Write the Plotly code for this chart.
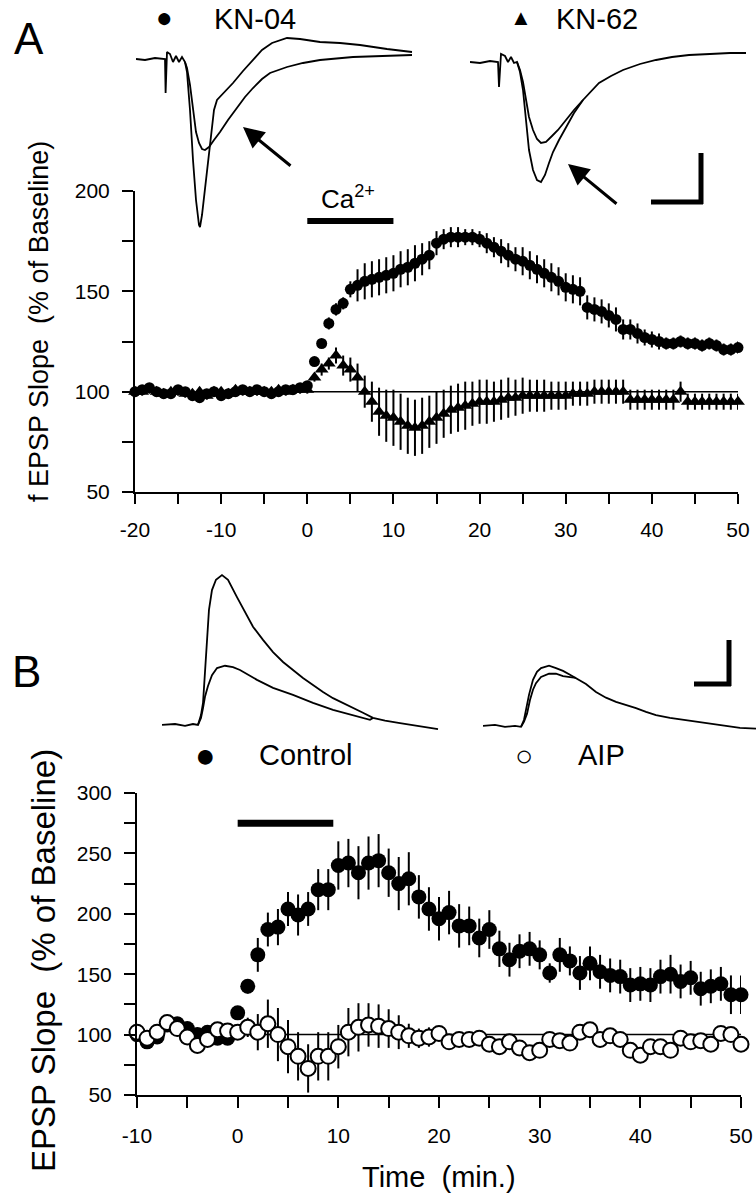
import plotly.graph_objects as go

W, H = 756, 1199
def px(x):
    return x / W
def py(y):
    return 1 - y / H

FONT = "Liberation Sans, Arial, Helvetica, sans-serif"

# ---------------- Panel A data (sampled every 50 s) ----------------
A_TIME = [round(-20 + i * 50 / 60, 3) for i in range(85)]
A_KN04 = [100, 101, 102, 100, 99, 99, 101, 100, 98, 97, 99, 100, 98, 99, 100, 101, 100, 101, 100, 99,
          100, 101, 101, 102, 103,
          115, 124, 134, 141, 144, 151, 153, 155, 156, 157, 158, 159,
          161, 162, 164, 166, 168, 174, 176, 177, 177, 177, 177, 176,
          174, 172, 170, 168, 166, 165, 163, 161, 159, 157, 155, 152,
          151, 150, 142, 141, 140, 138, 136, 131, 131, 129, 127, 126,
          125, 124, 124, 125, 124, 124, 123, 124, 123, 121, 121, 122]
A_KN04_ERR = [2] * 25 + [2, 2, 3, 3, 3, 4, 8, 9, 9, 9, 9, 9,
                         9, 9, 9, 8, 7, 6, 5, 5, 5, 4, 4, 4,
                         5, 5, 6, 6, 6, 7, 7, 7, 7, 7, 7, 7,
                         7, 7, 6, 6, 6, 6, 6, 5, 5, 5, 4, 4,
                         4, 3, 3, 3, 3, 3, 3, 3, 3, 3, 3, 3]
A_KN62 = [100, 100, 101, 100, 99, 100, 100, 99, 99, 100, 98, 100, 100, 99, 101, 100, 100, 100, 100, 100,
          101, 100, 101, 101, 101,
          107, 111, 114, 118, 113, 111, 107, 100, 95, 90, 88, 87,
          85, 83, 82, 83, 85, 87, 89, 91, 92, 93, 94, 95,
          95, 95, 96, 97, 97, 98, 98, 98, 98, 98, 98, 98,
          99, 99, 99, 100, 100, 100, 100, 100, 96, 96, 96, 96,
          96, 96, 96, 100, 95, 95, 95, 95, 95, 95, 95, 95]
A_KN62_ERR = [2] * 25 + [2, 3, 3, 4, 5, 6, 7, 8, 10, 12, 13, 14,
                         14, 14, 14, 14, 13, 13, 12, 12, 12, 12, 11, 11,
                         11, 10, 10, 10, 9, 9, 8, 8, 8, 7, 7, 7,
                         6, 6, 6, 6, 6, 6, 6, 6, 5, 5, 5, 5,
                         5, 5, 5, 5, 4, 4, 4, 4, 4, 4, 4, 4]
A_CA_PERIOD = [0, 10]
A_CA_LEVEL = 185

# ---------------- Panel B data (every 1 min) ----------------
B_TIME = list(range(-10, 51))
B_CONTROL = [100, 94, 98, 108, 109, 105, 100, 102, 97, 97,
             118, 140, 166, 187, 189, 204, 199, 204, 220, 220,
             240, 242, 234, 242, 244, 234, 225, 229, 214, 204,
             196, 201, 190, 190, 180, 187, 171, 162, 169, 171,
             166, 151, 166, 161, 151, 159, 152, 149, 148, 141,
             142, 141, 148, 150, 144, 147, 138, 140, 142, 133, 133]
B_CONTROL_ERR = [3] * 10 + [3, 6, 14, 14, 15, 14, 17, 14, 17, 17,
                            20, 20, 22, 22, 22, 20, 22, 22, 18, 18,
                            18, 18, 18, 16, 16, 16, 15, 14, 14, 14,
                            12, 8, 14, 12, 14, 14, 14, 14, 14, 14,
                            14, 14, 14, 16, 14, 14, 14, 14, 14, 16, 16]
B_AIP = [102, 97, 102, 110, 105, 98, 91, 96, 104, 103,
         102, 106, 102, 109, 100, 90, 82, 72, 82, 82,
         90, 102, 106, 108, 107, 105, 102, 99, 97, 98,
         101, 94, 96, 96, 97, 92, 90, 94, 89, 85,
         87, 96, 95, 93, 102, 104, 96, 99, 96, 87,
         83, 90, 90, 87, 97, 94, 95, 92, 101, 100, 92]
B_AIP_ERR = [3] * 10 + [4, 8, 15, 20, 22, 22, 20, 20, 20, 20,
                        18, 20, 20, 18, 18, 16, 14, 10, 8, 8,
                        6] + [5] * 30
B_CA_PERIOD = [0, 9.5]
B_CA_LEVEL = 275

# ---------------- Example traces (ms, mV) ----------------
# Panel A, KN-04
A1_PRE_T = [0.0, 0.9, 1.9, 2.7, 2.9, 2.96, 3.03, 3.1, 3.4, 3.7, 4.0, 4.3, 4.6, 4.9]
A1_PRE_V = [0.0, -0.01, 0.01, 0.0, 0.0, -0.34, -0.01, 0.07, 0.05, -0.03, 0.03, -0.03, 0.02, -0.03]
A1_BIG_T = [5.1, 5.4, 5.7, 6.0, 6.3, 6.4, 6.6, 6.9, 7.2, 7.5, 7.8, 8.1, 8.4, 9.1, 9.7, 10.7, 11.7,
            12.6, 13.6, 15.1, 16.4, 18.4, 20.4, 22.4, 25.1, 27.6]
A1_BIG_V = [-0.13, -0.51, -1.01, -1.41, -1.66, -1.68, -1.56, -1.31, -1.01, -0.76, -0.51, -0.41, -0.38,
            -0.31, -0.24, -0.12, -0.01, 0.09, 0.16, 0.21, 0.20, 0.17, 0.16, 0.14, 0.10, 0.07]
A1_SMALL_T = [5.1, 5.4, 5.7, 6.0, 6.3, 6.6, 6.9, 7.3, 7.8, 8.4, 9.2, 10.1, 10.9, 11.7, 12.6, 13.4,
              15.1, 16.7, 18.4, 21.7, 24.4, 27.6]
A1_SMALL_V = [-0.09, -0.26, -0.51, -0.73, -0.84, -0.90, -0.91, -0.88, -0.81, -0.73, -0.61, -0.49,
              -0.38, -0.29, -0.20, -0.14, -0.08, -0.04, -0.01, 0.02, 0.03, 0.04]
# Panel A, KN-62
A2_PRE_T = [0.0, 1.0, 2.0, 2.8, 2.9, 3.0, 3.1, 3.5, 3.8, 4.1, 4.4, 4.7]
A2_PRE_V = [0.0, -0.01, 0.01, 0.0, -0.25, 0.0, 0.08, 0.06, 0.0, 0.05, -0.01, 0.0]
A2_BIG_T = [5.0, 5.3, 5.6, 5.9, 6.3, 6.7, 7.1, 7.5, 7.9, 8.3, 8.9, 9.6, 10.4, 11.3]
A2_BIG_V = [-0.10, -0.28, -0.58, -0.88, -1.08, -1.18, -1.20, -1.13, -1.01, -0.90, -0.78, -0.65, -0.51, -0.38]
A2_SMALL_T = [5.0, 5.3, 5.6, 5.9, 6.3, 6.7, 7.1, 7.6, 8.2, 8.8, 9.6, 10.4, 11.3]
A2_SMALL_V = [-0.08, -0.20, -0.38, -0.55, -0.68, -0.77, -0.81, -0.80, -0.74, -0.68, -0.58, -0.48, -0.38]
A2_TAIL_T = [11.3, 12.9, 14.1, 15.3, 17.0, 18.6, 20.2, 21.9, 24.0, 26.0, 27.6]
A2_TAIL_V = [-0.38, -0.21, -0.14, -0.08, -0.02, 0.02, 0.05, 0.07, 0.08, 0.09, 0.09]
# Panel B, Control
B1_PRE_T = [0.0, 1.86, 3.29, 4.43, 5.14]
B1_PRE_V = [0.0, 0.02, -0.02, 0.02, 0.0]
B1_BIG_T = [5.57, 5.86, 6.14, 6.43, 6.71, 7.14, 7.71, 8.57, 9.43, 10.71, 11.86, 13.0, 14.43, 15.86,
            17.29, 18.71, 20.14, 21.57, 23.0, 24.43, 25.86, 27.29, 28.71, 30.14]
B1_BIG_V = [0.21, 0.47, 1.17, 1.91, 2.45, 2.87, 3.09, 3.19, 3.09, 2.72, 2.40, 2.09, 1.81, 1.55,
            1.34, 1.17, 1.00, 0.85, 0.70, 0.57, 0.47, 0.36, 0.26, 0.15]
B1_SMALL_T = [5.57, 5.86, 6.14, 6.57, 7.14, 7.86, 9.0, 10.14, 11.14, 13.57, 15.86, 18.71, 21.57,
              24.43, 27.29, 29.71]
B1_SMALL_V = [0.15, 0.36, 0.60, 0.83, 1.06, 1.21, 1.26, 1.23, 1.17, 0.96, 0.79, 0.64, 0.47, 0.32, 0.21, 0.11]
B1_TAIL_T = [30.14, 31.86, 34.0, 36.86, 39.43]
B1_TAIL_V = [0.15, 0.09, 0.04, -0.02, -0.09]
# Panel B, AIP
B2_PRE_T = [0.0, 1.71, 3.14, 4.57, 5.43]
B2_PRE_V = [0.0, 0.02, -0.02, 0.0, -0.02]
B2_BIG_T = [5.86, 6.14, 6.57, 7.14, 7.71, 8.29, 9.43, 10.43, 11.43, 12.43, 13.29]
B2_BIG_V = [0.13, 0.34, 0.66, 0.98, 1.15, 1.23, 1.28, 1.23, 1.17, 1.09, 1.02]
B2_SMALL_T = [5.86, 6.29, 6.71, 7.14, 7.57, 8.29, 9.43, 10.43, 11.43, 12.43, 13.29]
B2_SMALL_V = [0.09, 0.26, 0.55, 0.77, 0.91, 1.04, 1.11, 1.11, 1.06, 1.04, 1.02]
B2_TAIL_T = [13.29, 14.71, 16.14, 17.57, 19.0, 20.43, 21.86, 23.29, 24.71, 26.71, 28.57, 30.43,
             32.29, 34.57, 36.71, 39.0]
B2_TAIL_V = [1.02, 0.89, 0.72, 0.60, 0.51, 0.45, 0.38, 0.30, 0.23, 0.17, 0.13, 0.09, 0.04, 0.0, -0.04, -0.06]

fig = go.Figure()

def trace_line(t, v, xa, ya):
    fig.add_trace(go.Scatter(x=t, y=v, mode="lines", xaxis=xa, yaxis=ya, showlegend=False,
                             line=dict(color="black", width=1.8), hoverinfo="skip"))

# A left traces
trace_line(A1_PRE_T + A1_BIG_T, A1_PRE_V + A1_BIG_V, "x3", "y3")
trace_line(A1_PRE_T[-1:] + A1_SMALL_T, A1_PRE_V[-1:] + A1_SMALL_V, "x3", "y3")
# A right traces
trace_line(A2_PRE_T + A2_BIG_T + A2_TAIL_T, A2_PRE_V + A2_BIG_V + A2_TAIL_V, "x4", "y4")
trace_line(A2_PRE_T[-1:] + A2_SMALL_T, A2_PRE_V[-1:] + A2_SMALL_V, "x4", "y4")
# B left traces
trace_line(B1_PRE_T + B1_BIG_T + B1_TAIL_T, B1_PRE_V + B1_BIG_V + B1_TAIL_V, "x5", "y5")
trace_line(B1_PRE_T[-1:] + B1_SMALL_T + B1_TAIL_T[:1], B1_PRE_V[-1:] + B1_SMALL_V + B1_TAIL_V[:1], "x5", "y5")
# B right traces
trace_line(B2_PRE_T + B2_BIG_T + B2_TAIL_T, B2_PRE_V + B2_BIG_V + B2_TAIL_V, "x6", "y6")
trace_line(B2_PRE_T[-1:] + B2_SMALL_T, B2_PRE_V[-1:] + B2_SMALL_V, "x6", "y6")

# ---------- Panel A plot ----------
fig.add_trace(go.Scatter(x=[0, 50], y=[100, 100], mode="lines", line=dict(color="black", width=1.5),
                         xaxis="x", yaxis="y", showlegend=False, hoverinfo="skip"))
fig.add_trace(go.Scatter(x=A_CA_PERIOD, y=[A_CA_LEVEL] * 2, mode="lines",
                         line=dict(color="black", width=6), xaxis="x", yaxis="y", showlegend=False))
fig.add_trace(go.Scatter(x=A_TIME, y=A_KN04, mode="markers", xaxis="x", yaxis="y", name="KN-04",
                         marker=dict(symbol="circle", size=11, color="black"), cliponaxis=False,
                         error_y=dict(type="data", array=A_KN04_ERR, width=0, thickness=2, color="black"),
                         showlegend=False))
fig.add_trace(go.Scatter(x=A_TIME, y=A_KN62, mode="markers", xaxis="x", yaxis="y", name="KN-62",
                         marker=dict(symbol="triangle-up", size=12, color="black"), cliponaxis=False,
                         error_y=dict(type="data", array=A_KN62_ERR, width=0, thickness=2, color="black"),
                         showlegend=False))

# ---------- Panel B plot ----------
fig.add_trace(go.Scatter(x=[0, 50], y=[100, 100], mode="lines", line=dict(color="black", width=1.5),
                         xaxis="x2", yaxis="y2", showlegend=False, hoverinfo="skip"))
fig.add_trace(go.Scatter(x=B_CA_PERIOD, y=[B_CA_LEVEL] * 2, mode="lines",
                         line=dict(color="black", width=7), xaxis="x2", yaxis="y2", showlegend=False))
fig.add_trace(go.Scatter(x=B_TIME, y=B_CONTROL, mode="markers", xaxis="x2", yaxis="y2", name="Control",
                         marker=dict(symbol="circle", size=15, color="black"), cliponaxis=False,
                         error_y=dict(type="data", array=B_CONTROL_ERR, width=0, thickness=2, color="black"),
                         showlegend=False))
fig.add_trace(go.Scatter(x=B_TIME, y=B_AIP, mode="markers", xaxis="x2", yaxis="y2", name="AIP",
                         marker=dict(symbol="circle", size=15, color="white", line=dict(color="black", width=2)),
                         cliponaxis=False,
                         error_y=dict(type="data", array=B_AIP_ERR, width=0, thickness=2, color="black"),
                         showlegend=False))

axis_common = dict(showline=True, linecolor="black", linewidth=2, ticks="outside", tickcolor="black",
                   tickwidth=2, showgrid=False, zeroline=False, fixedrange=True, automargin=False,
                   tickfont=dict(family=FONT, size=21, color="black"))

def ticks(vals, step):
    return [str(v) if v % step == 0 else "" for v in vals]

ax_vals = list(range(-20, 51, 5))
ay_vals = list(range(50, 201, 25))
bx_vals = list(range(-10, 51, 5))
by_vals = list(range(50, 301, 25))

inset = dict(visible=False, fixedrange=True, automargin=False)

fig.update_layout(
    template="none",
    width=W, height=H, margin=dict(l=0, r=0, t=0, b=0, pad=0, autoexpand=False),
    paper_bgcolor="white", plot_bgcolor="rgba(0,0,0,0)", showlegend=False,
    font=dict(family=FONT, color="black"),
    xaxis=dict(axis_common, domain=[px(135), px(738)], range=[-20, 50], anchor="y",
               tickvals=ax_vals, ticktext=ticks(ax_vals, 10), ticklen=10, ticklabelstandoff=8),
    yaxis=dict(axis_common, domain=[py(492), py(191)], range=[50, 200], anchor="x",
               tickvals=ay_vals, ticktext=ticks(ay_vals, 50), ticklen=11, ticklabelstandoff=8),
    xaxis2=dict(axis_common, domain=[px(137), px(741)], range=[-10, 50], anchor="y2",
                tickvals=bx_vals, ticktext=ticks(bx_vals, 10), ticklen=11, ticklabelstandoff=10),
    yaxis2=dict(axis_common, domain=[py(1095), py(793)], range=[50, 300], anchor="x2",
                tickvals=by_vals, ticktext=ticks(by_vals, 50), ticklen=11, ticklabelstandoff=8),
    xaxis3=dict(inset, domain=[px(136), px(416)], range=[0, 28], anchor="y3"),
    yaxis3=dict(inset, domain=[py(240), py(30)], range=[-1.81, 0.29], anchor="x3"),
    xaxis4=dict(inset, domain=[px(470), px(750)], range=[0, 28], anchor="y4"),
    yaxis4=dict(inset, domain=[py(240), py(30)], range=[-1.78, 0.32], anchor="x4"),
    xaxis5=dict(inset, domain=[px(162), px(442)], range=[0, 40], anchor="y5"),
    yaxis5=dict(inset, domain=[py(740), py(560)], range=[-0.32, 3.51], anchor="x5"),
    xaxis6=dict(inset, domain=[px(483), px(756)], range=[0, 39], anchor="y6"),
    yaxis6=dict(inset, domain=[py(740), py(560)], range=[-0.30, 3.53], anchor="x6"),
)

def note(text, x, y, size, xanchor="center", yanchor="middle", **kw):
    fig.add_annotation(text=text, x=px(x), y=py(y), xref="paper", yref="paper", showarrow=False,
                       xanchor=xanchor, yanchor=yanchor,
                       font=dict(family=FONT, size=size, color="black"), **kw)

note("A", 29, 38, 44)
note("B", 26, 672, 44)
note("●", 164, 18, 28)
note("KN-04", 212, 19, 29, xanchor="left")
note("▲", 521, 18, 22)
note("KN-62", 554, 19, 29, xanchor="left")
note("Ca<sup>2+</sup>", 348, 197, 26)
note("●", 205, 755, 34)
note("Control", 257, 755, 29, xanchor="left")
note("○", 524, 755, 30)
note("AIP", 576, 755, 29, xanchor="left")
note("f EPSP Slope  (% of Baseline)", 39, 322, 27, textangle=-90)
note("EPSP Slope  (% of Baseline)", 43, 961, 33, textangle=-90)
note("Time  (min.)", 439, 1177, 29)

# arrows
for tip, tail in [((243, 127), (292, 167)), ((568, 164), (618, 205))]:
    fig.add_annotation(text="", x=px(tip[0]), y=py(tip[1]), xref="paper", yref="paper",
                       ax=tail[0] - tip[0], ay=tail[1] - tip[1], showarrow=True,
                       arrowhead=2, arrowsize=1.4, arrowwidth=3, arrowcolor="black")

# scale bars
for (x0, y0, x1, y1) in [(701, 153, 701, 204), (651, 202, 703, 202),
                         (729, 640, 729, 686), (694, 684, 731, 684)]:
    fig.add_shape(type="line", x0=px(x0), y0=py(y0), x1=px(x1), y1=py(y1), xref="paper", yref="paper",
                  line=dict(color="black", width=5))

fig.write_html("out.html", config={"displayModeBar": False},
               post_script="document.body.style.margin='0';document.body.style.padding='0';")
